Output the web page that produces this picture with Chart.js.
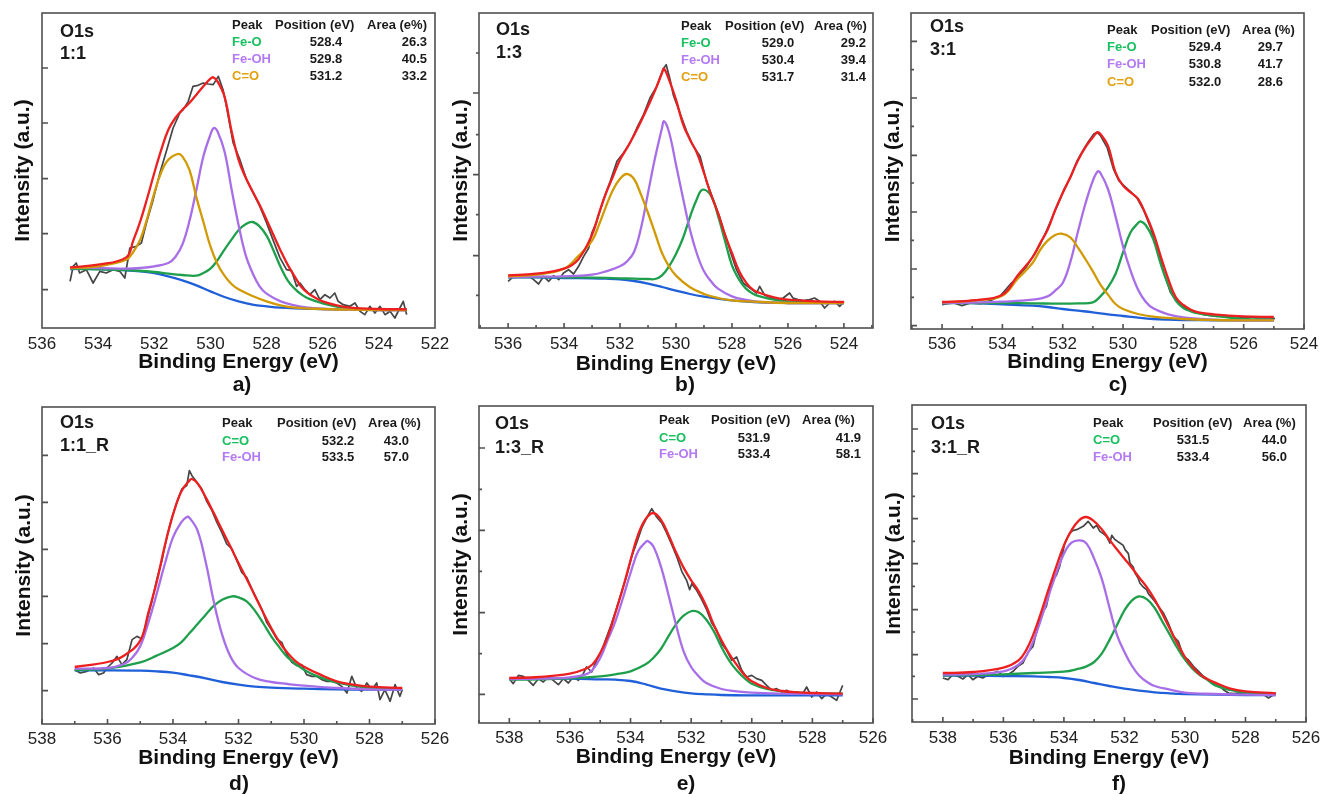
<!DOCTYPE html>
<html>
<head>
<meta charset="utf-8">
<title>O1s XPS fits</title>
<script src="https://cdn.jsdelivr.net/npm/chart.js@4.4.0/dist/chart.umd.min.js"></script>
<style>
  html, body { margin: 0; padding: 0; background: #fff; }
  body { position: relative; width: 1320px; height: 794px; overflow: hidden; font-family: "Liberation Sans", Arial, sans-serif; }
  canvas { position: absolute; }
  .txt { position: absolute; line-height: 1; white-space: nowrap; font-weight: bold; color: #1a1a1a; }
</style>
</head>
<body>
<script>
// ---- panel a: 1:1 ----
const aXTicks = [536, 534, 532, 530, 528, 526, 524, 522];
const aYMajor = [115, 283, 448, 615, 780];
const aYMinor = [];
const aPeaks = ['Fe-O', 'Fe-OH', 'C=O'];
const aPos = ['528.4', '529.8', '531.2'];
const aArea = ['26.3', '40.5', '33.2'];
const aBg = [[535,177],[534,177],[533,173],[532.5,170],[532,165],[531.5,155],[531,143],[530.5,128],[530,110],[529.5,93],[529,80],[528.5,70],[528,65],[527.5,61],[527,59],[526,57],[525,55],[524,54],[523,54]];
const aFeO = [[535,178],[534,176],[533,174],[532,168],[531.5,163],[531,159],[530.5,157],[530.25,165],[530,178],[529.75,203],[529.5,235],[529.25,265],[529,293],[528.75,311],[528.5,318],[528.25,305],[528,277],[527.75,232],[527.5,183],[527.25,143],[527,118],[526.75,100],[526.5,88],[526,74],[525.5,64],[525,58],[524,55],[523,54]];
const aFeOH = [[535,180],[534,180],[533,178],[532.5,180],[532,185],[531.5,195],[531.25,213],[531,250],[530.75,320],[530.5,415],[530.25,515],[530,580],[529.88,600],[529.75,590],[529.5,530],[529.25,418],[529,310],[528.75,220],[528.5,165],[528.25,125],[528,103],[527.5,80],[527,68],[526.5,61],[526,57],[525,55],[524,54],[523,54]];
const aCO = [[535,180],[534,185],[533,205],[532.75,228],[532.5,265],[532.25,330],[532,405],[531.75,468],[531.5,505],[531.17,522],[531,515],[530.75,475],[530.5,392],[530.25,318],[530,245],[529.75,192],[529.5,157],[529.25,132],[529,116],[528.5,96],[528,80],[527.5,68],[527,61],[526,57],[525,55],[524,54],[523,54]];
const aFit = [[535,182],[534,190],[533,212],[532.75,262],[532.5,320],[532.25,390],[532,465],[531.75,535],[531.5,595],[531.25,630],[531,655],[530.75,675],[530.5,700],[530.25,725],[530,748],[529.9,752],[529.75,740],[529.5,695],[529.25,592],[529,505],[528.75,452],[528.5,410],[528.25,370],[528,325],[527.75,278],[527.5,232],[527.25,190],[527,155],[526.75,122],[526.5,103],[526.25,90],[526,80],[525.5,68],[525,61],[524,57],[523,56]];
const aRaw = [[535.00,140],[534.89,185],[534.78,195],[534.66,165],[534.42,175],[534.18,135],[533.94,170],[533.71,165],[533.47,175],[533.23,170],[533.05,150],[532.87,240],[532.64,245],[532.46,255],[532.28,315],[532.04,385],[531.80,465],[531.57,530],[531.33,600],[531.09,645],[530.97,655],[530.79,680],[530.62,725],[530.44,728],[530.26,735],[530.08,732],[529.90,730],[529.72,755],[529.55,715],[529.43,665],[529.19,555],[528.95,505],[528.71,445],[528.48,405],[528.24,365],[528.00,315],[527.76,262],[527.53,212],[527.29,175],[527.11,172],[526.93,125],[526.81,135],[526.63,115],[526.46,100],[526.28,115],[526.10,85],[525.92,100],[525.74,90],[525.57,105],[525.45,80],[525.27,70],[525.03,65],[524.85,75],[524.67,50],[524.50,40],[524.32,65],[524.14,45],[523.96,65],[523.78,40],[523.60,50],[523.43,30],[523.25,60],[523.13,80],[523.01,40]];

// ---- panel b: 1:3 ----
const bXTicks = [536, 534, 532, 530, 528, 526, 524];
const bYMajor = [217, 460, 705];
const bYMinor = [98, 340, 580, 825];
const bPeaks = ['Fe-O', 'Fe-OH', 'C=O'];
const bPos = ['529.0', '530.4', '531.7'];
const bArea = ['29.2', '39.4', '31.4'];
const bBg = [[536,152],[535,152],[534,150],[533,149],[532.5,148],[532,146],[531.5,141],[531,133],[530.5,123],[530,112],[529.5,102],[529,94],[528.5,88],[528,83],[527,77],[526,75],[525,75],[524,75]];
const bFeO = [[536,153],[535,153],[534,152],[533,151],[532,149],[531.5,148],[531,147],[530.75,147],[530.5,158],[530.25,185],[530,222],[529.75,270],[529.5,333],[529.25,388],[529.05,415],[528.75,397],[528.5,337],[528.25,262],[528,188],[527.75,146],[527.5,118],[527.25,103],[527,95],[526.5,85],[526,80],[525,76],[524,75]];
const bFeOH = [[536,153],[535,154],[534,155],[533,160],[532.5,170],[532,185],[531.75,200],[531.5,228],[531.25,300],[531,405],[530.75,510],[530.5,600],[530.43,620],[530.25,588],[530,490],[529.75,390],[529.5,295],[529.25,222],[529,170],[528.75,140],[528.5,118],[528,95],[527.5,84],[527,78],[526,75],[525,75],[524,75]];
const bCO = [[536,155],[535,160],[534,178],[533.5,215],[533,262],[532.75,310],[532.5,365],[532.25,415],[532,448],[531.76,462],[531.5,447],[531.25,400],[531,345],[530.75,285],[530.5,225],[530.25,185],[530,157],[529.5,122],[529,102],[528.5,90],[528,83],[527,78],[526,75],[525,75],[524,75]];
const bFit = [[536,158],[535,163],[534,178],[533.5,205],[533,280],[532.75,345],[532.5,405],[532.25,455],[532,505],[531.75,540],[531.5,578],[531.25,620],[531,665],[530.75,712],[530.5,765],[530.43,778],[530.25,745],[530,685],[529.75,612],[529.5,565],[529.25,525],[529,465],[528.75,400],[528.5,345],[528.25,280],[528,225],[527.75,172],[527.5,137],[527.25,115],[527,105],[526.5,92],[526,85],[525,80],[524,78]];
const bRaw = [[536.00,140],[535.80,155],[535.56,153],[535.32,160],[535.09,145],[534.91,132],[534.73,155],[534.55,140],[534.37,157],[534.19,145],[534.02,165],[533.84,175],[533.66,162],[533.48,185],[533.30,215],[533.12,240],[533.01,285],[532.83,320],[532.59,385],[532.35,440],[532.11,500],[531.88,525],[531.64,555],[531.40,600],[531.16,640],[530.93,690],[530.69,725],[530.45,778],[530.35,790],[530.21,745],[530.10,700],[529.86,645],[529.62,590],[529.38,545],[529.14,515],[528.91,440],[528.67,385],[528.43,330],[528.19,265],[528.02,220],[527.84,175],[527.60,135],[527.36,120],[527.12,105],[527.01,125],[526.83,98],[526.65,92],[526.41,85],[526.17,90],[525.94,105],[525.82,90],[525.64,85],[525.46,82],[525.22,85],[525.05,90],[524.87,80],[524.69,60],[524.51,75],[524.33,80],[524.15,65],[524.00,80]];

// ---- panel c: 3:1 ----
const cXTicks = [536, 534, 532, 530, 528, 526, 524];
const cYMajor = [10, 180, 351, 521, 693, 863];
const cYMinor = [95, 266, 438, 608, 778];
const cPeaks = ['Fe-O', 'Fe-OH', 'C=O'];
const cPos = ['529.4', '530.8', '532.0'];
const cArea = ['29.7', '41.7', '28.6'];
const cBg = [[536,78],[535,78],[534,74],[533,70],[532.5,66],[532,60],[531.5,55],[531,50],[530.5,44],[530,39],[529.5,34],[529,30],[528.5,28],[528,27],[527,26],[526,26],[525,26]];
const cFeO = [[536,78],[535,78],[534,78],[533,77],[532,76],[531.5,77],[531,80],[530.75,98],[530.5,125],[530.25,165],[530,230],[529.75,290],[529.5,318],[529.42,323],[529.25,312],[529,270],[528.75,195],[528.5,132],[528.25,85],[528,63],[527.75,53],[527.5,47],[527,40],[526,30],[525,28]];
const cFeOH = [[536,78],[535,79],[534,82],[533,88],[532.5,98],[532.25,115],[532,138],[531.75,200],[531.5,290],[531.25,375],[531,445],[530.84,473],[530.75,468],[530.5,420],[530.25,338],[530,248],[529.75,175],[529.5,118],[529.25,82],[529,62],[528.5,44],[528,35],[527,28],[526,26],[525,26]];
const cCO = [[536,80],[535,85],[534,100],[533.5,150],[533,198],[532.75,237],[532.5,265],[532.25,282],[532.04,286],[531.75,275],[531.5,245],[531.25,210],[531,173],[530.75,133],[530.5,103],[530.25,75],[530,60],[529.5,45],[529,37],[528,30],[527,27],[526,26],[525,26]];
const cFit = [[536,81],[535,86],[534,103],[533.5,160],[533,215],[532.75,257],[532.5,298],[532.25,357],[532,408],[531.75,455],[531.5,505],[531.25,545],[531,575],[530.86,590],[530.75,585],[530.5,550],[530.25,470],[530,430],[529.75,410],[529.5,390],[529.25,345],[529,290],[528.75,218],[528.5,150],[528.25,95],[528,72],[527.75,58],[527.5,50],[527,44],[526,38],[525,36]];
const cRaw = [[536.00,73],[535.83,76],[535.61,78],[535.34,70],[535.06,78],[534.73,76],[534.40,85],[534.06,100],[533.73,135],[533.57,148],[533.40,165],[533.18,190],[532.96,222],[532.74,255],[532.52,298],[532.30,345],[532.13,380],[531.96,418],[531.74,455],[531.52,505],[531.30,540],[531.13,565],[530.97,585],[530.86,590],[530.75,580],[530.53,545],[530.31,478],[530.14,445],[529.97,430],[529.75,412],[529.53,392],[529.31,355],[529.09,305],[528.87,240],[528.65,170],[528.43,110],[528.20,80],[527.98,65],[527.76,55],[527.54,50],[527.32,43],[527.10,40],[526.88,38],[526.65,40],[526.43,38],[526.21,36],[525.99,35],[525.77,36],[525.55,33],[525.33,34],[525.11,33],[524.96,31]];

// ---- panel d: 1:1_R ----
const dXTicks = [538, 536, 534, 532, 530, 528, 526];
const dYMajor = [100, 241, 383, 524, 665, 806];
const dYMinor = [];
const dPeaks = ['C=O', 'Fe-OH'];
const dPos = ['532.2', '533.5'];
const dArea = ['43.0', '57.0'];
const dBg = [[537,161],[536,161],[535,160],[534.5,158],[534,154],[533.5,146],[533,137],[532.5,126],[532,118],[531.5,112],[531,109],[530,106],[529,104],[528,103],[527,103]];
const dCO = [[537,162],[536,166],[535,185],[534.5,205],[534,228],[533.75,245],[533.5,272],[533.25,300],[533,328],[532.75,355],[532.5,373],[532.2,383],[532,380],[531.75,368],[531.5,340],[531.25,303],[531,263],[530.75,230],[530.5,200],[530,163],[529.5,140],[529,125],[528.5,115],[528,108],[527,104]];
const dFeOH = [[537,166],[536,168],[535.5,180],[535.25,198],[535,233],[534.75,305],[534.5,390],[534.25,480],[534,560],[533.75,605],[533.58,621],[533.5,619],[533.25,580],[533,485],[532.75,365],[532.5,268],[532.25,203],[532,168],[531.5,138],[531,126],[530.5,120],[530,115],[529,108],[528,104],[527,103]];
const dFit = [[537,171],[536,186],[535.5,205],[535,250],[534.75,335],[534.5,425],[534.25,535],[534,628],[533.75,697],[533.5,730],[533.42,735],[533.25,722],[533,680],[532.75,632],[532.5,582],[532.25,533],[532,483],[531.75,435],[531.5,385],[531.25,335],[531,288],[530.75,246],[530.5,213],[530.25,188],[530,172],[529.5,148],[529,128],[528.5,118],[528,112],[527,108]];
const dRaw = [[537.00,163],[536.83,153],[536.63,158],[536.42,168],[536.27,148],[536.12,153],[536.02,168],[535.86,183],[535.71,203],[535.56,178],[535.41,193],[535.25,253],[535.10,263],[534.95,255],[534.80,310],[534.64,370],[534.49,435],[534.34,490],[534.19,560],[534.03,620],[533.88,665],[533.73,705],[533.58,715],[533.50,760],[533.42,745],[533.27,725],[533.12,705],[532.97,668],[532.81,640],[532.66,605],[532.51,575],[532.36,540],[532.20,525],[532.05,490],[531.90,455],[531.75,440],[531.59,405],[531.44,375],[531.29,345],[531.14,305],[530.98,280],[530.83,255],[530.68,245],[530.53,210],[530.37,185],[530.22,175],[530.07,178],[529.92,148],[529.76,143],[529.61,143],[529.46,133],[529.30,128],[529.15,128],[529.00,123],[528.85,113],[528.69,93],[528.54,143],[528.39,108],[528.24,98],[528.08,123],[527.93,103],[527.78,123],[527.68,73],[527.53,103],[527.37,68],[527.22,118],[527.07,83],[527.00,103]];

// ---- panel e: 1:3_R ----
const eXTicks = [538, 536, 534, 532, 530, 528, 526];
const eYMajor = [86, 331, 578, 825];
const eYMinor = [208, 455, 701];
const ePeaks = ['C=O', 'Fe-OH'];
const ePos = ['531.9', '533.4'];
const eArea = ['41.9', '58.1'];
const eBg = [[538,132],[537,133],[536,133],[535,131],[534.5,130],[534,126],[533.5,116],[533,103],[532.5,95],[532,89],[531.5,86],[531,84],[530,83],[529,83],[528,83],[527,83]];
const eCO = [[538,130],[537,131],[536,134],[535,140],[534.5,146],[534,155],[533.5,176],[533.25,195],[533,222],[532.75,260],[532.5,296],[532.25,322],[531.98,336],[531.75,332],[531.5,310],[531.25,275],[531,228],[530.75,188],[530.5,158],[530.25,135],[530,118],[529.5,102],[529,95],[528.5,91],[528,89],[527,88]];
const eFeOH = [[538,132],[537,133],[536,137],[535.5,145],[535.25,160],[535,195],[534.75,250],[534.5,305],[534.25,375],[534,450],[533.75,515],[533.5,543],[533.43,546],[533.25,530],[533,470],[532.75,385],[532.5,295],[532.25,215],[532,168],[531.75,140],[531.5,120],[531,102],[530.5,95],[530,91],[529,88],[528,87],[527,86]];
const eFit = [[538,135],[537,138],[536,148],[535.5,162],[535.25,176],[535,210],[534.75,260],[534.5,330],[534.25,405],[534,488],[533.75,565],[533.5,612],[533.25,630],[533,610],[532.75,565],[532.5,512],[532.25,466],[532,428],[531.75,395],[531.5,350],[531.25,294],[531,248],[530.75,208],[530.5,175],[530.25,145],[530,125],[529.5,105],[529,96],[528.5,92],[528,90],[527,88]];
const eRaw = [[538.00,133],[537.87,118],[537.70,143],[537.54,140],[537.37,128],[537.21,113],[537.04,133],[536.88,123],[536.71,138],[536.55,128],[536.38,115],[536.22,133],[536.05,120],[535.89,138],[535.72,128],[535.56,148],[535.45,168],[535.28,153],[535.12,188],[534.95,218],[534.79,258],[534.62,300],[534.46,345],[534.29,395],[534.13,440],[533.96,500],[533.80,540],[533.63,585],[533.47,615],[533.30,643],[533.14,618],[532.97,600],[532.81,570],[532.64,535],[532.48,500],[532.31,455],[532.15,428],[532.05,400],[531.98,418],[531.82,398],[531.65,370],[531.49,340],[531.32,300],[531.16,278],[530.99,238],[530.83,218],[530.66,188],[530.50,198],[530.33,158],[530.17,138],[530.00,143],[529.84,133],[529.67,128],[529.51,113],[529.34,98],[529.18,103],[529.01,93],[528.85,98],[528.68,88],[528.52,93],[528.35,83],[528.19,108],[528.02,78],[527.86,93],[527.69,73],[527.53,88],[527.36,78],[527.20,68],[527.09,93],[527.00,113]];

// ---- panel f: 3:1_R ----
const fXTicks = [538, 536, 534, 532, 530, 528, 526];
const fYMajor = [69, 202, 337, 475, 610, 745, 879];
const fYMinor = [137, 270, 407, 542, 677, 812];
const fPeaks = ['C=O', 'Fe-OH'];
const fPos = ['531.5', '533.4'];
const fArea = ['44.0', '56.0'];
const fBg = [[538,139],[537,139],[536,138],[535,137],[534.5,135],[534,132],[533.5,126],[533,117],[532.5,108],[532,100],[531.5,94],[531,89],[530.5,86],[530,84],[529,82],[528,81],[527,81]];
const fCO = [[538,140],[537,141],[536,143],[535,147],[534,151],[533.5,160],[533.25,167],[533,180],[532.75,205],[532.5,245],[532.25,290],[532,335],[531.75,365],[531.51,377],[531.25,368],[531,342],[530.75,302],[530.5,262],[530.25,222],[530,187],[529.75,160],[529.5,140],[529.25,126],[529,110],[528.5,96],[528,88],[527,83]];
const fFeOH = [[538,142],[537,144],[536,152],[535.5,172],[535.25,197],[535,245],[534.75,310],[534.5,380],[534.25,447],[534,505],[533.75,538],[533.47,545],[533.25,535],[533,490],[532.75,430],[532.5,345],[532.25,262],[532,210],[531.75,168],[531.5,138],[531.25,120],[531,108],[530.5,97],[530,88],[529,84],[528,82],[527,81]];
const fFit = [[538,147],[537,150],[536,163],[535.5,185],[535.25,215],[535,265],[534.75,330],[534.5,400],[534.25,467],[534,530],[533.75,575],[533.5,605],[533.27,615],[533,602],[532.75,578],[532.5,547],[532.25,518],[532,490],[531.75,462],[531.5,432],[531.25,403],[531,367],[530.75,325],[530.5,280],[530.25,236],[530,195],[529.75,165],[529.5,142],[529.25,128],[529,118],[528.5,100],[528,92],[527,86]];
const fRaw = [[538.00,132],[537.83,127],[537.67,142],[537.50,137],[537.34,129],[537.17,142],[537.01,127],[536.84,137],[536.68,132],[536.51,142],[536.34,147],[536.18,152],[536.01,137],[535.85,142],[535.68,152],[535.52,167],[535.35,177],[535.18,210],[535.02,227],[534.85,290],[534.69,330],[534.58,347],[534.45,400],[534.36,427],[534.25,440],[534.14,467],[533.97,537],[533.81,567],[533.69,575],[533.58,577],[533.47,582],[533.36,587],[533.20,602],[533.03,582],[532.92,590],[532.81,572],[532.70,565],[532.59,557],[532.48,537],[532.42,560],[532.31,547],[532.20,540],[532.15,537],[532.04,530],[531.98,517],[531.87,505],[531.82,477],[531.71,465],[531.65,447],[531.54,430],[531.49,417],[531.38,405],[531.27,397],[531.21,385],[531.04,367],[530.88,347],[530.71,327],[530.55,297],[530.38,257],[530.22,242],[530.05,197],[529.89,187],[529.72,167],[529.55,152],[529.39,137],[529.22,127],[529.06,117],[528.89,112],[528.73,97],[528.56,87],[528.40,85],[528.23,87],[528.06,85],[527.90,82],[527.73,85],[527.57,84],[527.40,82],[527.24,72],[527.07,82],[527.00,87]];

// colours
const RAW = '#464646', BG = '#1f5fd8', GREEN = '#1f9f4c', PURPLE = '#a86ee8', ORANGE = '#d19a05', RED = '#ec2020';
const T_GREEN = '#19c060', T_PURPLE = '#b47af5', T_ORANGE = '#e2a012';

Chart.defaults.font.family = '"Liberation Sans", Arial, sans-serif';

// frame box + tick marks
const framePlugin = {
  id: 'frame',
  afterDatasetsDraw(chart, args, o) {
    const {ctx, chartArea: ca, scales: {x, y}} = chart;
    ctx.save();
    ctx.strokeStyle = '#505050';
    ctx.lineWidth = 1.6;
    ctx.beginPath();
    if (o.xTicks) {
      for (let v = Math.ceil(x.min); v <= Math.floor(x.max); v++) {
        const px = x.getPixelForValue(v);
        ctx.moveTo(px, ca.bottom);
        ctx.lineTo(px, ca.bottom - (v % 2 === 0 ? 5 : 3));
      }
    }
    const dir = o.yOut ? -1 : 1;
    o.major.forEach(v => { const py = y.getPixelForValue(v); ctx.moveTo(ca.left, py); ctx.lineTo(ca.left + dir * 6, py); });
    o.minor.forEach(v => { const py = y.getPixelForValue(v); ctx.moveTo(ca.left, py); ctx.lineTo(ca.left + dir * 3, py); });
    ctx.stroke();
    ctx.strokeRect(ca.left, ca.top, ca.right - ca.left, ca.bottom - ca.top);
    ctx.restore();
  }
};

function comps(raw, bg, list, fit) {
  const out = [{data: raw, color: RAW, width: 1.7, order: 8, smooth: false}, {data: bg, color: BG, width: 2.3, order: 7, smooth: true}];
  list.forEach((c, i) => out.push({data: c[0], color: c[1], width: 2.3, order: 6 - i, smooth: true}));
  out.push({data: fit, color: RED, width: 2.3, order: 1, smooth: true});
  return out;
}

const panels = [
  { org: [0, 0], box: [0, 0, 460, 390], yW: 42, xH: 62, padTop: 13, padRight: 25, x: [522, 536], yMax: 945,
    xt: aXTicks, ticks: {xTicks: false, yOut: false, major: aYMajor, minor: aYMinor}, tickPad: 6, xTitlePad: 14.7, yTitlePad: 10.4,
    series: comps(aRaw, aBg, [[aFeO, GREEN], [aFeOH, PURPLE], [aCO, ORANGE]], aFit),
    sample: '1:1', lab: [60, 31, 53], head: {y: 24, peak: 232, pos: 275, area: 367, areaText: 'Area (e%)'},
    rows: [41, 58, 75], names: aPeaks, tcol: [T_GREEN, T_PURPLE, T_ORANGE], pos: aPos, area: aArea, posC: 326, areaR: 427, cap: ['a)', 242, 383] },
  { org: [440, 0], box: [440, 0, 460, 390], yW: 39, xH: 62, padTop: 13, padRight: 27, x: [522.96, 537.04], yMax: 945,
    xt: bXTicks, ticks: {xTicks: true, yOut: true, major: bYMajor, minor: bYMinor}, tickPad: 6, xTitlePad: 13.4, yTitlePad: 9.1,
    series: comps(bRaw, bBg, [[bFeO, GREEN], [bFeOH, PURPLE], [bCO, ORANGE]], bFit),
    sample: '1:3', lab: [56, 29, 52], head: {y: 25, peak: 241, pos: 285, area: 374, areaText: 'Area (%)'},
    rows: [42, 59, 76], names: bPeaks, tcol: [T_GREEN, T_PURPLE, T_ORANGE], pos: bPos, area: bArea, posC: 338, areaR: 426, cap: ['b)', 245, 383] },
  { org: [870, 0], box: [870, 0, 450, 390], yW: 41, xH: 61, padTop: 13, padRight: 16, x: [524, 537.03], yMax: 948,
    xt: cXTicks, ticks: {xTicks: true, yOut: false, major: cYMajor, minor: cYMinor}, tickPad: 5, xTitlePad: 15.4, yTitlePad: 10.7,
    series: comps(cRaw, cBg, [[cFeO, GREEN], [cFeOH, PURPLE], [cCO, ORANGE]], cFit),
    sample: '3:1', lab: [60, 26, 49], head: {y: 29, peak: 237, pos: 281, area: 372, areaText: 'Area (%)'},
    rows: [46, 63, 81], names: cPeaks, tcol: [T_GREEN, T_PURPLE, T_ORANGE], pos: cPos, area: cArea, posC: 335, areaR: 413, cap: ['c)', 248, 383] },
  { org: [0, 390], box: [0, 390, 460, 404], yW: 42, xH: 70, padTop: 17, padRight: 25, x: [526, 538], yMax: 951,
    xt: dXTicks, ticks: {xTicks: true, yOut: false, major: dYMajor, minor: dYMinor}, tickPad: 5, xTitlePad: 23.4, yTitlePad: 11.4,
    series: comps(dRaw, dBg, [[dCO, GREEN], [dFeOH, PURPLE]], dFit),
    sample: '1:1_R', lab: [60, 32, 55], head: {y: 32, peak: 222, pos: 277, area: 368, areaText: 'Area (%)'},
    rows: [50, 66], names: dPeaks, tcol: [T_GREEN, T_PURPLE], pos: dPos, area: dArea, posC: 338, areaR: 409, cap: ['d)', 239, 392] },
  { org: [440, 390], box: [440, 390, 460, 404], yW: 39, xH: 71, padTop: 16, padRight: 27, x: [526, 539], yMax: 951,
    xt: eXTicks, ticks: {xTicks: true, yOut: false, major: eYMajor, minor: eYMinor}, tickPad: 5, xTitlePad: 24.4, yTitlePad: 9.1,
    series: comps(eRaw, eBg, [[eCO, GREEN], [eFeOH, PURPLE]], eFit),
    sample: '1:3_R', lab: [55, 33, 57], head: {y: 29, peak: 219, pos: 271, area: 362, areaText: 'Area (%)'},
    rows: [47, 63], names: ePeaks, tcol: [T_GREEN, T_PURPLE], pos: ePos, area: eArea, posC: 314, areaR: 421, cap: ['e)', 246, 392] },
  { org: [870, 390], box: [870, 390, 450, 404], yW: 42, xH: 72, padTop: 15, padRight: 14, x: [526, 539.02], yMax: 951,
    xt: fXTicks, ticks: {xTicks: true, yOut: false, major: fYMajor, minor: fYMinor}, tickPad: 6, xTitlePad: 23.4, yTitlePad: 11.4,
    series: comps(fRaw, fBg, [[fCO, GREEN], [fFeOH, PURPLE]], fFit),
    sample: '3:1_R', lab: [61, 33, 57], head: {y: 32, peak: 223, pos: 283, area: 373, areaText: 'Area (%)'},
    rows: [49, 66], names: fPeaks, tcol: [T_GREEN, T_PURPLE], pos: fPos, area: fArea, posC: 323, areaR: 417, cap: ['f)', 249, 392] }
];

function addText(str, x, y, size, align, color) {
  const d = document.createElement('div');
  d.className = 'txt';
  d.textContent = str;
  d.style.fontSize = size + 'px';
  d.style.left = x + 'px';
  d.style.top = (y - size / 2) + 'px';
  if (color) d.style.color = color;
  if (align === 'center') d.style.transform = 'translateX(-50%)';
  if (align === 'right') d.style.transform = 'translateX(-100%)';
  document.body.appendChild(d);
}

panels.forEach(p => {
  const cv = document.createElement('canvas');
  const [l, t, w, h] = p.box;
  cv.width = w; cv.height = h;
  cv.style.left = l + 'px'; cv.style.top = t + 'px';
  document.body.appendChild(cv);

  new Chart(cv, {
    type: 'line',
    data: {
      datasets: p.series.map(s => ({
        data: s.data.map(([x, y]) => ({x, y})),
        borderColor: s.color,
        borderWidth: s.width,
        borderJoinStyle: 'round',
        pointRadius: 0,
        fill: false,
        order: s.order,
        tension: s.smooth ? 0.4 : 0
      }))
    },
    options: {
      responsive: false,
      animation: false,
      devicePixelRatio: 1,
      layout: { padding: { left: 0, top: p.padTop, right: p.padRight, bottom: 0 } },
      plugins: { legend: { display: false }, tooltip: { enabled: false }, frame: p.ticks },
      scales: {
        x: {
          type: 'linear', reverse: true, min: p.x[0], max: p.x[1],
          afterBuildTicks: s => { s.ticks = p.xt.map(v => ({ value: v })); },
          afterFit: s => { s.height = p.xH; s.paddingLeft = 0; s.paddingRight = 0; },
          grid: { display: false, drawTicks: false },
          border: { display: false },
          ticks: { autoSkip: false, maxRotation: 0, padding: p.tickPad, font: { size: 17 }, color: '#222', callback: v => String(v) },
          title: { display: true, text: 'Binding Energy (eV)', color: '#111', font: { size: 21, weight: 'bold' }, padding: { top: 0, bottom: p.xTitlePad } }
        },
        y: {
          min: 0, max: p.yMax,
          afterFit: s => { s.width = p.yW; },
          grid: { display: false, drawTicks: false },
          border: { display: false },
          ticks: { display: false },
          title: { display: true, text: 'Intensity (a.u.)', color: '#111', font: { size: 21, weight: 'bold' }, padding: { top: p.yTitlePad, bottom: 0 } }
        }
      }
    },
    plugins: [framePlugin]
  });

  const [ox, oy] = p.org;
  addText('O1s', ox + p.lab[0], oy + p.lab[1], 18, 'left');
  addText(p.sample, ox + p.lab[0], oy + p.lab[2], 18, 'left');
  addText('Peak', ox + p.head.peak, oy + p.head.y, 13, 'left');
  addText('Position (eV)', ox + p.head.pos, oy + p.head.y, 13, 'left');
  addText(p.head.areaText, ox + p.head.area, oy + p.head.y, 13, 'left');
  p.rows.forEach((ry, i) => {
    addText(p.names[i], ox + p.head.peak, oy + ry, 13, 'left', p.tcol[i]);
    addText(p.pos[i], ox + p.posC, oy + ry, 13, 'center');
    addText(p.area[i], ox + p.areaR, oy + ry, 13, 'right');
  });
  addText(p.cap[0], ox + p.cap[1], oy + p.cap[2], 21, 'center', '#111');
});
</script>
</body>
</html>
